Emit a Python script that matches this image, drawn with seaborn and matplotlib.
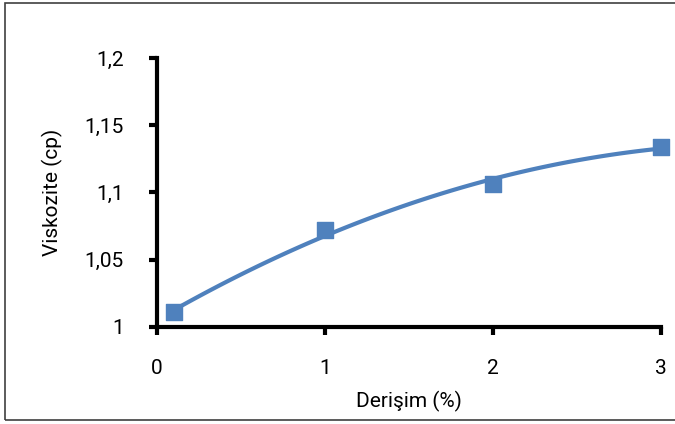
import matplotlib
matplotlib.use("Agg")
import matplotlib.pyplot as plt
import pandas as pd
import seaborn as sns
from matplotlib.patches import Rectangle

# Concentration (%) vs viscosity (cp)
derisim = [0.1, 1, 2, 3]
viskozite = [1.011, 1.072, 1.106, 1.134]

x_ticks = [0, 1, 2, 3]
x_labels = ["0", "1", "2", "3"]
y_ticks = [1.0, 1.05, 1.1, 1.15, 1.2]
y_labels = ["1", "1,05", "1,1", "1,15", "1,2"]

BLUE = "#4f81bd"

sns.set_theme(style="white")
plt.rcParams["font.family"] = ["Roboto", "DejaVu Sans"]

df = pd.DataFrame({"derisim": derisim, "viskozite": viskozite})

fig = plt.figure(figsize=(6.75, 4.24), dpi=100)
ax = fig.add_axes([0.2326, 0.2288, 0.7467, 0.6345])

sns.regplot(
    data=df, x="derisim", y="viskozite", order=2, ci=None, ax=ax,
    color=BLUE, marker="s",
    scatter_kws={"s": 120, "clip_on": False, "zorder": 4, "alpha": 1},
    line_kws={"lw": 3, "zorder": 3},
)

ax.set_xlim(0, 3)
ax.set_ylim(1.0, 1.2)
ax.set_xticks(x_ticks)
ax.set_xticklabels(x_labels)
ax.set_yticks(y_ticks)
ax.set_yticklabels(y_labels)

for side in ["top", "right"]:
    ax.spines[side].set_visible(False)
for side in ["left", "bottom"]:
    ax.spines[side].set_linewidth(3)
    ax.spines[side].set_color("black")
    ax.spines[side].set_zorder(5)

ax.tick_params(axis="both", which="major", bottom=True, left=True, direction="out",
               length=6, width=3, color="black", labelsize=15, labelcolor="black")
ax.tick_params(axis="x", pad=17)
ax.tick_params(axis="y", pad=18)
ax.set_xlabel("Derişim (%)", fontsize=15, color="black", labelpad=9)
ax.set_ylabel("Viskozite (cp)", fontsize=15, color="black", labelpad=15)

# outer chart frame
fig.patches.append(Rectangle((0.008, 0.01), 1.2, 0.982, transform=fig.transFigure,
                             fill=False, edgecolor="#404040", lw=1.2))

fig.savefig("out.png", dpi=100)
